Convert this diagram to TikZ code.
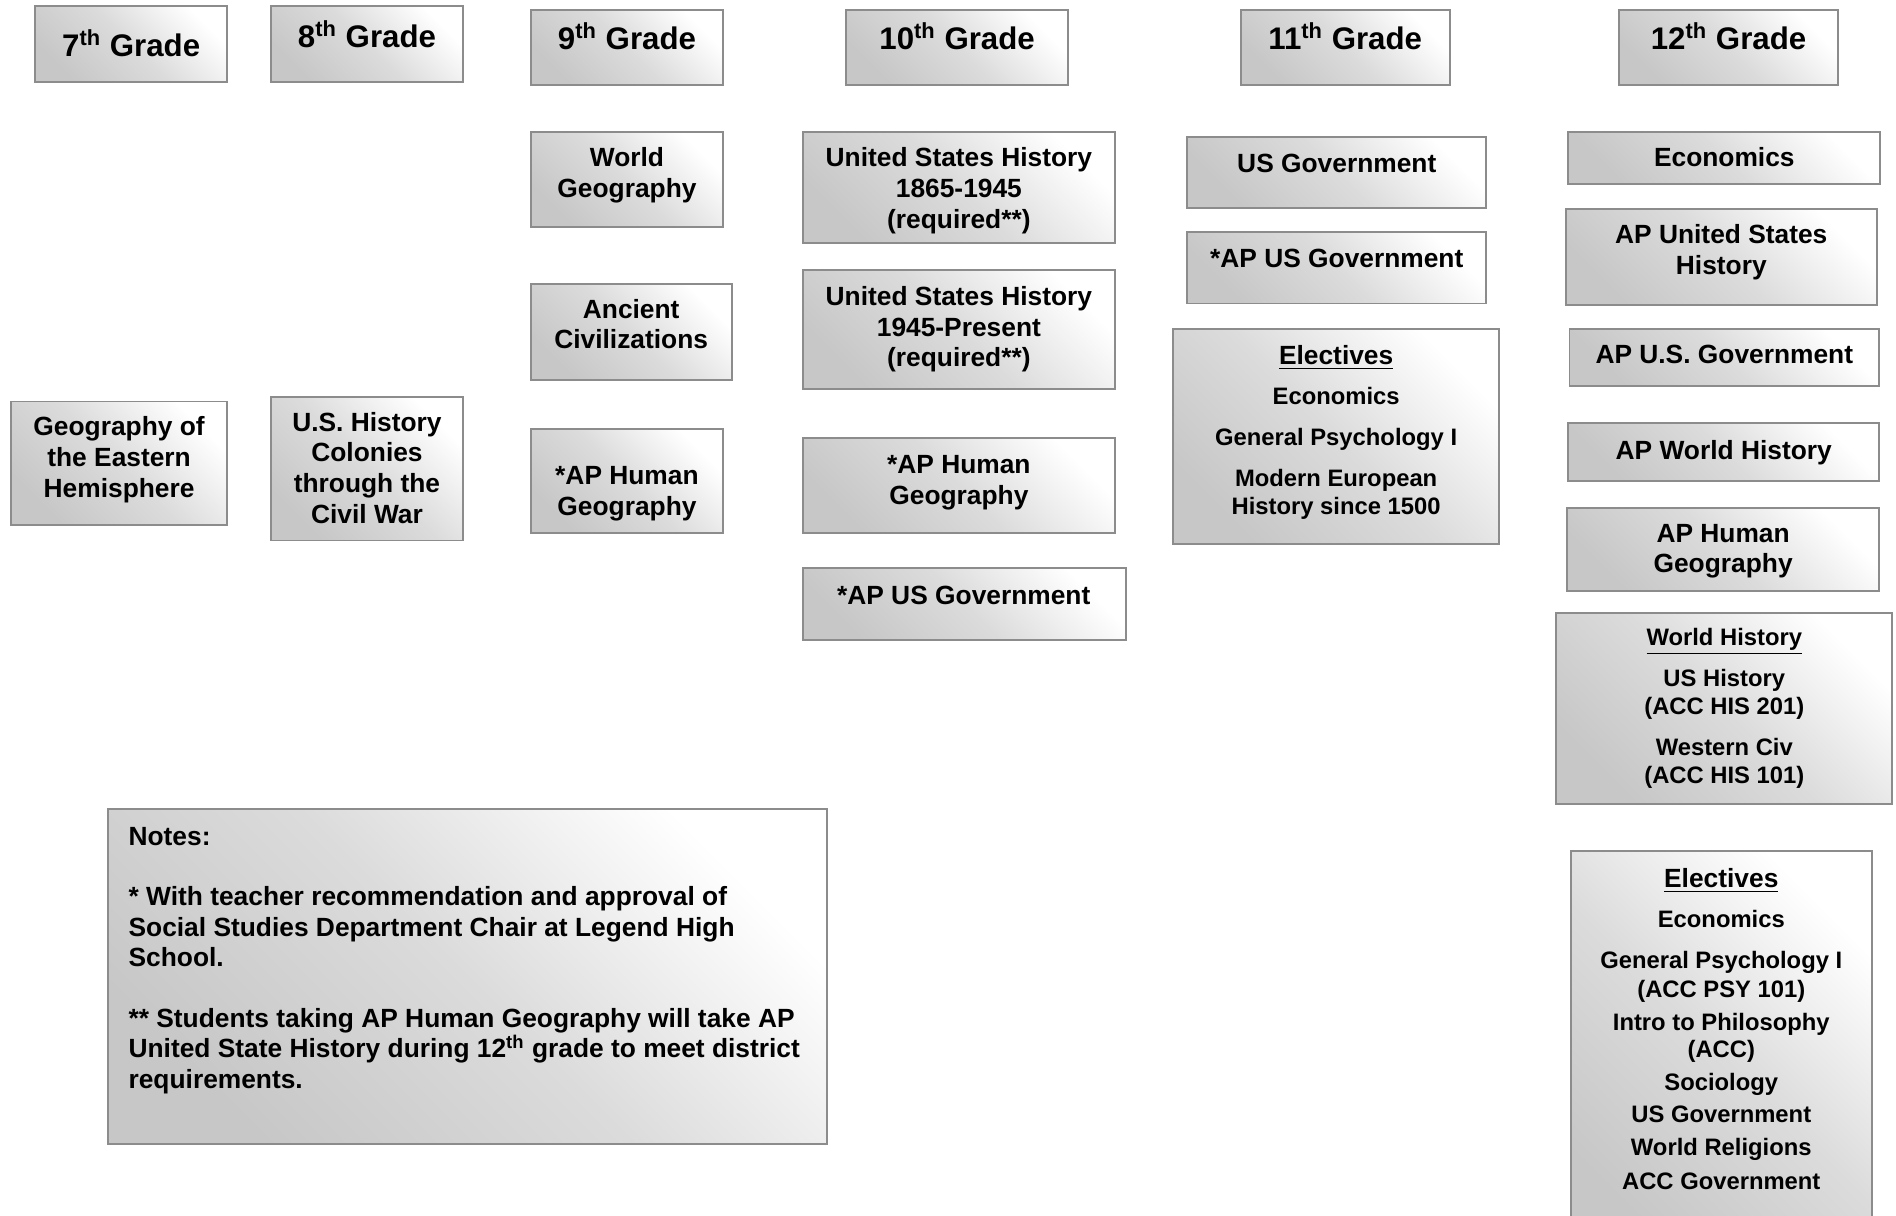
\documentclass[tikz,border=0pt]{standalone}
\usepackage{fontspec}
\setmainfont{Liberation Sans}

\begin{document}
\begin{tikzpicture}[x=0.02cm, y=-0.02cm,
    box/.style={draw=black!45, line width=0.9pt, top color=black!22, bottom color=white, middle color=black!14, shading angle=135},
    grade/.style={font=\fontsize{14.7}{17}\selectfont\bfseries, inner sep=0pt},
    course/.style={font=\fontsize{12.4}{14.5}\selectfont\bfseries, align=center, inner sep=0pt},
    coursesmall/.style={font=\fontsize{11.2}{13.1}\selectfont\bfseries, align=center, inner sep=0pt}]

    \clip (0,0) rectangle (1568,1005);

    % grade headers
    \path[box] (29,5) rectangle (188,68);
    \node[grade] (g7) at (108.5,36) {7\textsuperscript{th} Grade};
    \path[box] (224,5) rectangle (383,68);
    \node[grade] (g8) at (303.5,28) {8\textsuperscript{th} Grade};
    \path[box] (439,8) rectangle (598,70);
    \node[grade] (g9) at (518.5,30) {9\textsuperscript{th} Grade};
    \path[box] (700,8) rectangle (883,70);
    \node[grade] (g10) at (791.5,30) {10\textsuperscript{th} Grade};
    \path[box] (1026,8) rectangle (1199,70);
    \node[grade] (g11) at (1112.5,30) {11\textsuperscript{th} Grade};
    \path[box] (1339,8) rectangle (1520,70);
    \node[grade] (g12) at (1429.5,30) {12\textsuperscript{th} Grade};

    % 7th and 8th
    \path[box] (9,332) rectangle (188,434);
    \node[course] (easthemi) at (98.5,380.3) {Geography of\\the Eastern\\Hemisphere};
    \path[box] (224,328) rectangle (383,447);
    \node[course] (ushist8) at (303.5,387) {U.S. History\\Colonies\\through the\\Civil War};

    % 9th
    \path[box] (439,109) rectangle (598,188);
    \node[course] (worldgeo) at (518.5,144.8) {World\\Geography};
    \path[box] (439,235) rectangle (605,314);
    \node[course] (ancient) at (522,268) {Ancient\\Civilizations};
    \path[box] (439,355) rectangle (598,441);
    \node[course] (aphuman9) at (518.5,408.3) {*AP Human\\Geography};

    % 10th
    \path[box] (664,109) rectangle (922,201);
    \node[course] (us1865) at (793,157.8) {United States History\\1865-1945\\(required**)};
    \path[box] (664,223) rectangle (922,322);
    \node[course] (us1945) at (793,272.3) {United States History\\1945-Present\\(required**)};
    \path[box] (664,362) rectangle (922,441);
    \node[course] (aphuman10) at (793,399.3) {*AP Human\\Geography};
    \path[box] (664,470) rectangle (931,529);
    \node[course] (apgov10) at (797,492) {*AP US Government};

    % 11th
    \path[box] (982,113) rectangle (1229,172);
    \node[course] (usgov11) at (1105.5,135) {US Government};
    \path[box] (982,192) rectangle (1229,251);
    \node[course] (apgov11) at (1105.5,214) {*AP US Government};
    \path[box] (970,272) rectangle (1240,450);
    \node[coursesmall] (elect11) at (1105,357.7) {{\fontsize{12.4}{14.5}\selectfont\underline{Electives}}\\[5.7pt]
      Economics\\[6.2pt]
      General Psychology I\\[6.2pt]
      Modern European\\
      History since 1500};

    % 12th
    \path[box] (1297,109) rectangle (1555,152);
    \node[course] (econ12) at (1426,130) {Economics};
    \path[box] (1295,173) rectangle (1552,252);
    \node[course] (apush12) at (1423.5,208.3) {AP United States\\History};
    \path[box] (1298,272) rectangle (1554,319);
    \node[course] (apgov12) at (1426,293) {AP U.S. Government};
    \path[box] (1297,350) rectangle (1554,398);
    \node[course] (apworld12) at (1425.5,374.3) {AP World History};
    \path[box] (1296,420) rectangle (1554,489);
    \node[course] (aphuman12) at (1425,455.8) {AP Human\\Geography};
    \path[box] (1287,507) rectangle (1565,665);
    \node[coursesmall] (worldhist12) at (1426,585.6) {\underline{World History}\\[6.2pt]
      US History\\
      (ACC HIS 201)\\[6.2pt]
      Western Civ\\
      (ACC HIS 101)};
    \path[box] (1299,704) rectangle (1548,1040);
    \node[coursesmall] (elect12) at (1423.5,851) {{\fontsize{12.4}{14.5}\selectfont\underline{Electives}}\\[5.7pt]
      Economics\\[6.2pt]
      General Psychology I\\[0.5pt]
      (ACC PSY 101)\\[2.2pt]
      Intro to Philosophy\\
      (ACC)\\[2.2pt]
      Sociology\\[2.2pt]
      US Government\\[2.2pt]
      World Religions\\[2.8pt]
      ACC Government};

    % notes
    \path[box] (89,669) rectangle (684,946);
    \node[course, align=left, font=\fontsize{12.4}{14.4}\selectfont\bfseries, anchor=west] (notes) at (106,794.3) {Notes:\\[14pt]
      * With teacher recommendation and approval of\\
      Social Studies Department Chair at Legend High\\
      School.\\[14pt]
      ** Students taking AP Human Geography will take AP\\
      United State History during 12\textsuperscript{th} grade to meet district\\
      requirements.};

\end{tikzpicture}
\end{document}
